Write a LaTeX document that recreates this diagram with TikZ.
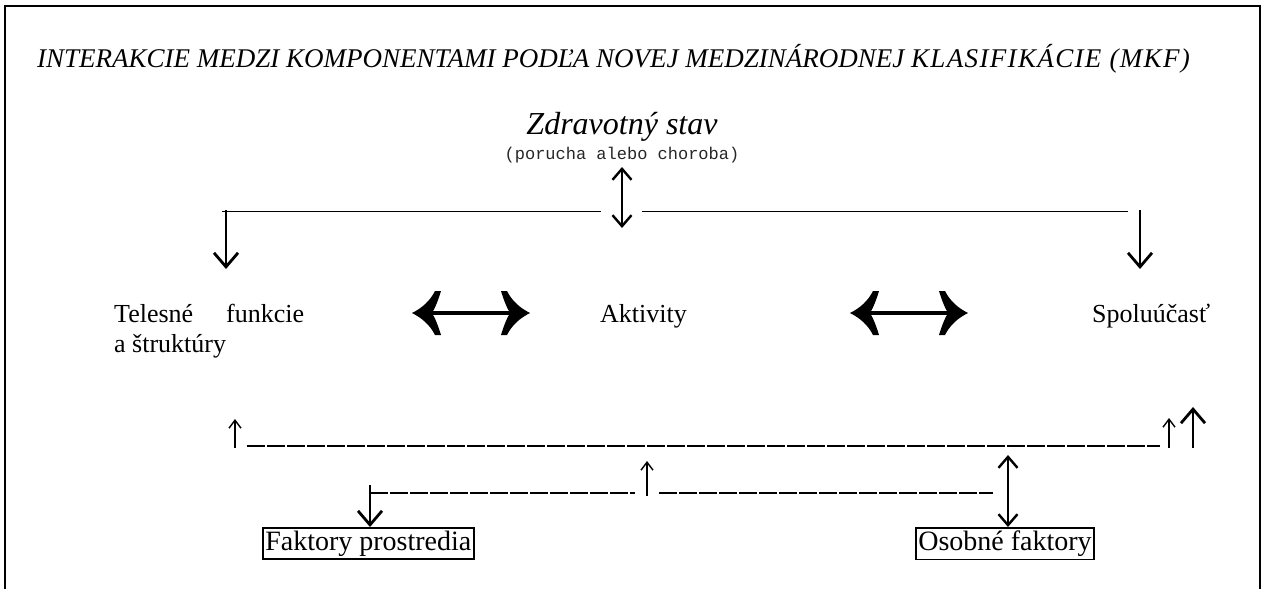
\documentclass[tikz,border=0pt]{standalone}
\usepackage{fontspec}
\setmainfont{Liberation Serif}
\newfontfamily\monofont{Liberation Mono}
\usetikzlibrary{arrows.meta}
\begin{document}
\begin{tikzpicture}[x=1pt,y=-1pt,
  frameline/.style={line width=2.2pt},
  lbl/.style={inner sep=0pt, anchor=base west, font=\fontsize{26}{30}\selectfont},
  boxlbl/.style={draw, line width=1.6pt, inner xsep=2.5pt, inner ysep=3pt, anchor=north west, font=\fontsize{28}{32}\selectfont},
  thinline/.style={line width=1pt},
  dashline/.style={line width=2pt, dash pattern=on 18pt off 2pt},
  vert/.style={line width=2.8pt, -{Straight Barb[length=14pt,width=24pt,line width=2.8pt]}},
  vertdbl/.style={line width=2.4pt, {Straight Barb[length=11pt,width=19pt]}-{Straight Barb[length=11pt,width=19pt]}},
  smallup/.style={line width=1.4pt, -{Straight Barb[length=8pt,width=12pt]}},
  shaft/.style={line width=4.5pt},
  bighead/.pic={\fill (0,0) .. controls (10,-5) and (18,-12) .. (23,-22) -- (29,-22)
      .. controls (26,-12) and (23,-5) .. (20,0) .. controls (23,5) and (26,12) .. (29,22)
      -- (23,22) .. controls (18,12) and (10,5) .. (0,0) -- cycle;}
]
\useasboundingbox (0,0) rectangle (1263,589);
% frame
\draw[frameline] (5,589) -- (5,6) -- (1260,6) -- (1260,589);
% texts
\node[inner sep=0pt, anchor=base west, font=\fontsize{27}{30}\selectfont\itshape] (title) at (37,67)
  {INTERAKCIE MEDZI KOMPONENTAMI PODĽA NOVEJ MEDZINÁRODNEJ {\addfontfeature{LetterSpace=5}KLASIFIKÁCIE (MKF)}};
\node[inner sep=0pt, anchor=base, font=\fontsize{32}{36}\selectfont\itshape] (zdrav) at (622,134) {Zdravotný stav};
\node[inner sep=0pt, anchor=base, font=\fontsize{17}{20}\monofont, text=black!85] (porucha) at (622,159) {(porucha alebo choroba)};
\node[lbl] (telesne) at (114,322) {Telesné\hspace{33pt}funkcie};
\node[lbl] (strukt) at (114,352) {a štruktúry};
\node[lbl] (aktivity) at (600,322) {Aktivity};
\node[lbl] (spolu) at (1092,322) {Spoluúčasť};
\node[boxlbl] (faktory) at (262,527) {Faktory prostredia};
\node[boxlbl] (osobne) at (915,527) {Osobné faktory};
% coordinates
\coordinate (zA) at (622,167);
\coordinate (zB) at (622,228);
\coordinate (l1) at (222,211);
\coordinate (l2) at (601,211);
\coordinate (r1) at (642,211);
\coordinate (r2) at (1128,211);
\coordinate (dl1) at (226,210);
\coordinate (dl2) at (226,269);
\coordinate (dr1) at (1140,210);
\coordinate (dr2) at (1140,269);
\coordinate (b1a) at (412,313);
\coordinate (b1b) at (530,313);
\coordinate (b2a) at (850,313);
\coordinate (b2b) at (968,313);
\coordinate (ua1) at (235,448);
\coordinate (ua2) at (235,419);
\coordinate (d1a) at (247,446);
\coordinate (d1b) at (1160,446);
\coordinate (ub1) at (1169,448);
\coordinate (ub2) at (1169,418);
\coordinate (uc1) at (1193,448);
\coordinate (uc2) at (1193,407);
\coordinate (m1) at (647,496);
\coordinate (m2) at (647,461);
\coordinate (d2a) at (370,493);
\coordinate (d2b) at (635,493);
\coordinate (d2c) at (659,493);
\coordinate (d2d) at (993,493);
\coordinate (fk) at (370,485);
\coordinate (os) at (1008,455);
% connectors
\draw[vertdbl] (zA) -- (zB);
\draw[thinline] (l1) -- (l2);
\draw[thinline] (r1) -- (r2);
\draw[vert] (dl1) -- (dl2);
\draw[vert] (dr1) -- (dr2);
\draw[shaft] ([xshift=19pt]b1a) -- ([xshift=-19pt]b1b);
\pic at (b1a) {bighead};
\pic[xscale=-1] at (b1b) {bighead};
\draw[shaft] ([xshift=19pt]b2a) -- ([xshift=-19pt]b2b);
\pic at (b2a) {bighead};
\pic[xscale=-1] at (b2b) {bighead};
\draw[smallup] (ua1) -- (ua2);
\draw[dashline] (d1a) -- (d1b);
\draw[smallup] (ub1) -- (ub2);
\draw[vert] (uc1) -- (uc2);
\draw[smallup] (m1) -- (m2);
\draw[dashline] (d2a) -- (d2b);
\draw[dashline] (d2c) -- (d2d);
\draw[vert] (fk) -- (faktory.north -| fk);
\draw[vertdbl] (os) -- (osobne.north -| os);
\end{tikzpicture}
\end{document}
